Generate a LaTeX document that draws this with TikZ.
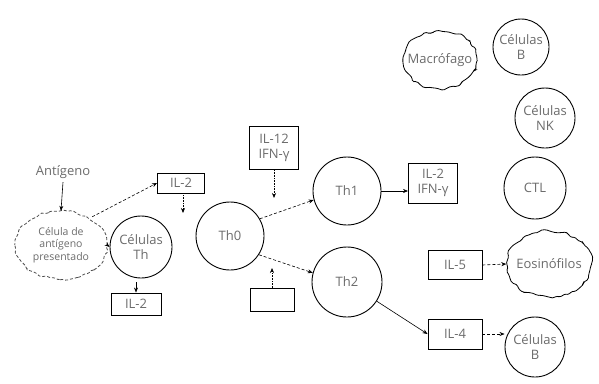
\documentclass[tikz,border=0pt]{standalone}
\usepackage{fontspec}
\setmainfont{Open Sans}
\usetikzlibrary{shapes.geometric,decorations.pathmorphing,arrows.meta}
\begin{document}
\begin{tikzpicture}[x=1pt,y=-1pt,
  every node/.style={text=black!58, font=\fontsize{13}{14.5}\selectfont, align=center},
  cell/.style={circle, draw=black, line width=0.9pt, inner sep=0pt},
  box/.style={rectangle, draw=black, line width=0.9pt, inner sep=0pt},
  blobtext/.style={rectangle, inner sep=0pt},
  blobline/.style={draw=black, line width=0.8pt, decorate, decoration={random steps, segment length=4pt, amplitude=1.7pt}, rounded corners=1.5pt},
  arr/.style={-{Stealth[length=5pt,width=4pt]}, line width=0.6pt, black},
  darr/.style={arr, densely dashed},
  parr/.style={arr, densely dotted}]
\pgfmathsetseed{11}
\useasboundingbox (0,0) rectangle (599,383);

% left part
\node (ant) at (63,172) {Antígeno};
\node[blobtext, minimum width=92pt, minimum height=68pt, font=\fontsize{10.5}{12.5}\selectfont] (apc) at (61,245) {Célula de\\antígeno\\presentado};
\draw[blobline, densely dashed, draw=black!70] (apc.center) ellipse [x radius=46pt, y radius=34pt];
\node[cell, minimum size=62pt] (th) at (141,247) {Células\\Th};
\node[box, minimum width=47pt, minimum height=20pt] (il2a) at (181,183) {IL-2};
\node[box, minimum width=50pt, minimum height=22pt] (il2b) at (136,304) {IL-2};

% middle
\node[cell, minimum size=68pt] (th0) at (230,236) {Th0};
\node[box, minimum width=49pt, minimum height=43pt] (il12) at (274,148) {IL-12\\IFN-γ};
\node[box, minimum width=44pt, minimum height=23pt] (empty) at (272,300) {};
\node[cell, minimum size=68pt] (th1) at (347,191) {Th1};
\node[cell, minimum size=70pt] (th2) at (347,282) {Th2};
\node[box, minimum width=49pt, minimum height=40pt] (il2g) at (433,183) {IL-2\\IFN-γ};

% right column
\node[blobtext, minimum width=74pt, minimum height=58pt] (mac) at (440,60) {Macrófago};
\draw[blobline] (mac.center) ellipse [x radius=37pt, y radius=29pt];
\node[cell, minimum size=56pt] (b1) at (521,47) {Células\\B};
\node[cell, minimum size=60pt] (nk) at (545,118) {Células\\NK};
\node[cell, minimum size=62pt] (ctl) at (535,188) {CTL};
\node[box, minimum width=54pt, minimum height=29pt] (il5) at (455,265) {IL-5};
\node[blobtext, minimum width=85pt, minimum height=66pt] (eos) at (549,264) {Eosinófilos};
\draw[blobline] (eos.center) ellipse [x radius=42.5pt, y radius=33pt];
\node[box, minimum width=54pt, minimum height=30pt] (il4) at (455,334) {IL-4};
\node[cell, minimum size=60pt] (b2) at (535,347) {Células\\B};

% free ends
\coordinate (p1) at (183,213);
\coordinate (p2) at (274,198);
\coordinate (p3) at (272,268);

% connectors
\draw[arr] (ant.south) -- (apc.north);
\draw[arr] (apc.east) -- (th.west);
\draw[darr] ([xshift=-15pt,yshift=-6pt]apc.north east) -- (il2a.west);
\draw[parr] (il2a.south -| p1) -- (p1);
\draw[arr] ([yshift=-4pt]th.south -| il2b.north) -- (il2b.north);
\draw[parr] (il12.south) -- (p2);
\draw[parr] (empty.north) -- (p3);
\draw[darr] (th0.30) -- (th1.195);
\draw[darr] (th0.-33) -- (th2.165);
\draw[arr] (th1.east) -- (th1.east -| il2g.west);
\draw[arr] (th2) -- (il4.west);
\draw[darr] (il5.east) -- (eos.west);
\draw[darr] (il4.east) -- (il4.east -| b2.west);
\end{tikzpicture}
\end{document}
